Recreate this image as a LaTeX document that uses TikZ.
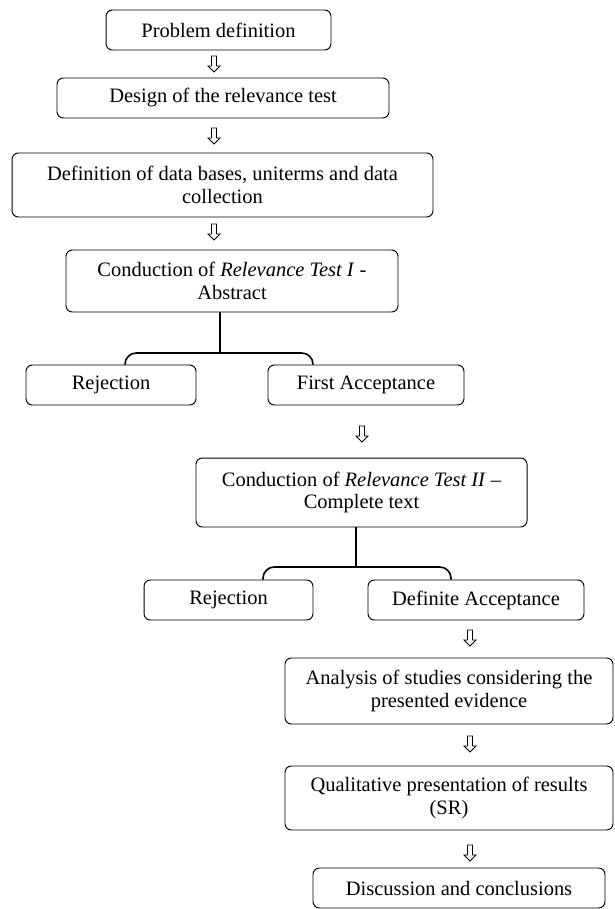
\documentclass[tikz,border=0pt]{standalone}
\usepackage{fontspec}
\setmainfont{Liberation Serif}
\begin{document}
\begin{tikzpicture}[x=0.625pt,y=-0.625pt,
  box/.style={draw,line width=0.6pt,rounded corners=4pt,align=center,inner sep=1pt,
    font=\fontsize{12.8}{13.9}\selectfont},
  stem/.style={line width=1.3pt},
  brk/.style={line width=1pt,rounded corners=7pt},
  harrow/.pic={\draw[line width=0.5pt] (-2.5,0) -- (-2.5,10) -- (-6,10) -- (0,16) -- (6,10) -- (2.5,10) -- (2.5,0) -- cycle;}]
\useasboundingbox (0,0) rectangle (614,909);
\node[box,minimum width=140.6pt,minimum height=25pt] (pd) at (218.5,30) {Problem definition};
\node[box,minimum width=207.5pt,minimum height=25pt] (design) at (223,98) {Design of the relevance test};
\node[box,minimum width=263.1pt,minimum height=40pt] (defin) at (222.5,185) {Definition of data bases, uniterms and data\\collection};
\node[box,minimum width=207.5pt,minimum height=38.75pt] (cond1) at (232,281) {Conduction of \textit{Relevance Test I} -\\Abstract};
\node[box,minimum width=106.25pt,minimum height=25pt] (rej1) at (111,385) {Rejection};
\node[box,minimum width=122.5pt,minimum height=25pt] (fa) at (366,385) {First Acceptance};
\node[box,minimum width=206.9pt,minimum height=43.1pt] (cond2) at (361.5,492.5) {Conduction of \textit{Relevance Test II} –\\Complete text};
\node[box,minimum width=105.6pt,minimum height=25pt] (rej2) at (228.5,600) {Rejection};
\node[box,minimum width=135pt,minimum height=25pt] (da) at (476,600) {Definite Acceptance};
\node[box,minimum width=205pt,minimum height=41.25pt] (an) at (449,691) {Analysis of studies considering the\\presented evidence};
\node[box,minimum width=205pt,minimum height=40pt] (qual) at (449,798) {Qualitative presentation of results\\(SR)};
\node[box,minimum width=182.5pt,minimum height=25pt] (disc) at (459,888) {Discussion and conclusions};
% hollow arrows
\pic (a1) at (214,56) {harrow};
\pic (a2) at (214,128) {harrow};
\pic (a3) at (214,224) {harrow};
\pic (a4) at (362,426) {harrow};
\pic (a5) at (470,630) {harrow};
\pic (a6) at (470,736) {harrow};
\pic (a7) at (470,845) {harrow};
% branch connectors
\coordinate (j1) at (220,353);
\coordinate (l1) at (125,353);
\coordinate (r1) at (313,353);
\draw[stem] (cond1.south -| j1) -- (j1);
\draw[brk] (l1 |- rej1.north) -- (l1) -- (r1) -- (r1 |- fa.north);
\coordinate (j2) at (356,567);
\coordinate (l2) at (263,567);
\coordinate (r2) at (451,567);
\draw[stem] (cond2.south -| j2) -- (j2);
\draw[brk] (l2 |- rej2.north) -- (l2) -- (r2) -- (r2 |- da.north);
\end{tikzpicture}
\end{document}
